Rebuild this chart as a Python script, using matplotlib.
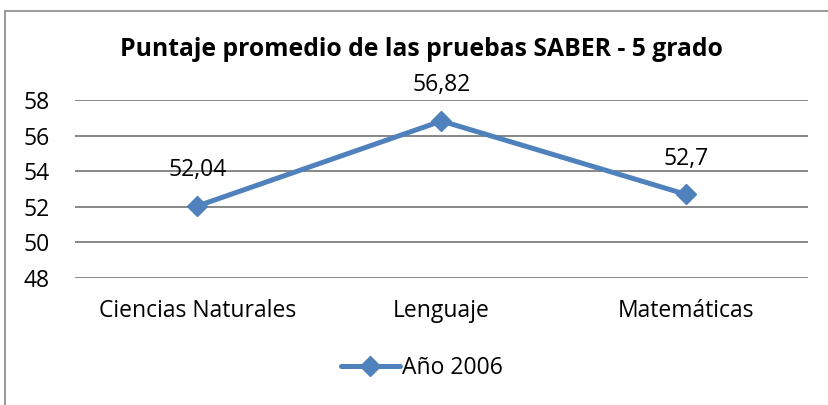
import matplotlib.pyplot as plt
from matplotlib.patches import Rectangle

categories = ["Ciencias Naturales", "Lenguaje", "Matemáticas"]
values = [52.04, 56.82, 52.7]
labels = ["52,04", "56,82", "52,7"]
series_name = "Año 2006"
y_ticks = [48, 50, 52, 54, 56, 58]

plt.rcParams["font.family"] = ["Open Sans", "DejaVu Sans"]
fs = 16.5

fig = plt.figure(figsize=(8.29, 4.05), dpi=100)
ax = fig.add_axes([75 / 829, 1 - 278 / 405, 733 / 829, 178 / 405])

x = list(range(len(categories)))
ax.plot(x, values, color="#4F81BD", linewidth=3.6, marker="D",
        markersize=10.5, label=series_name, solid_capstyle="round")

# data labels above each point
for xi, v, lab in zip(x, values, labels):
    ax.annotate(lab, (xi, v), xytext=(0, 17), textcoords="offset points",
                ha="center", va="bottom", fontsize=fs)

ax.set_xlim(-0.5, len(categories) - 0.5)
ax.set_ylim(48, 58)
ax.set_yticks(y_ticks)
ax.set_yticklabels([str(t) for t in y_ticks], fontsize=fs)
ax.set_xticks(x)
ax.set_xticklabels(categories, fontsize=fs)
ax.tick_params(axis="both", length=0)
ax.tick_params(axis="y", pad=18)
ax.tick_params(axis="x", pad=15)
ax.yaxis.grid(True, color="#878787", linewidth=1.4)
ax.set_axisbelow(True)
for s in ax.spines.values():
    s.set_visible(False)

fig.text(421 / 829, 1 - 50 / 405, "Puntaje promedio de las pruebas SABER - 5 grado",
         ha="center", va="center", fontsize=17.8, fontweight="bold")

fig.legend(loc="center", bbox_to_anchor=(422 / 829, 1 - 368 / 405), frameon=False,
           fontsize=fs, handlelength=2.6, handletextpad=0.1)

# chart frame (only top and left edges visible in the reference crop)
fig.patches.append(Rectangle((5 / 829, -0.05), 1.2, 1 - 11 / 405 + 0.05,
                             transform=fig.transFigure, fill=False,
                             edgecolor="#888888", linewidth=1.2))

fig.savefig("out.png", dpi=100)
